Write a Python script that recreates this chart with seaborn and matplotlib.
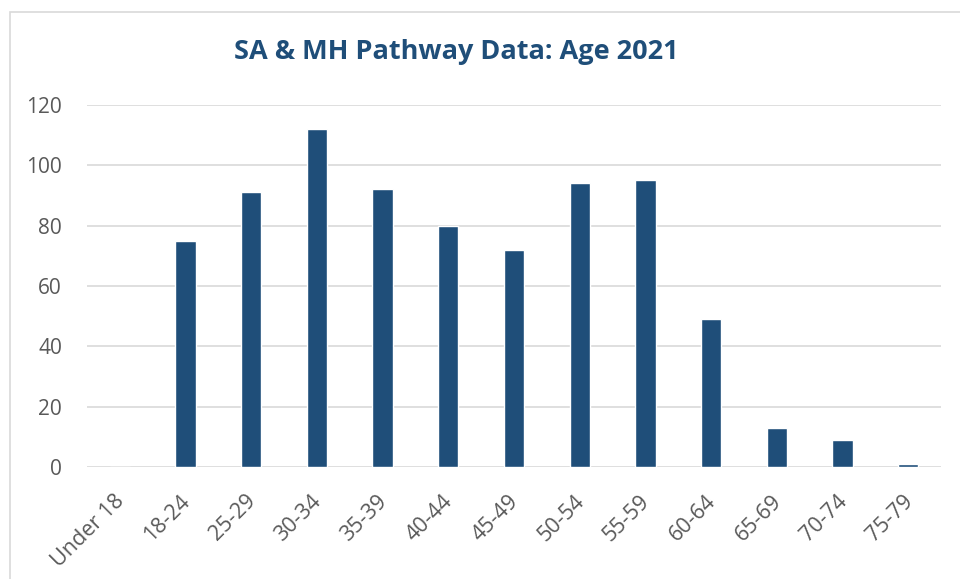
import matplotlib
matplotlib.use("Agg")
import matplotlib.pyplot as plt
import matplotlib.transforms as mtransforms
import seaborn as sns
import pandas as pd
from matplotlib.patches import Rectangle

categories = ["Under 18", "18-24", "25-29", "30-34", "35-39", "40-44", "45-49",
              "50-54", "55-59", "60-64", "65-69", "70-74", "75-79"]
values = [0, 75, 91, 112, 92, 80, 72, 94, 95, 49, 13, 9, 1]
yticks = [0, 20, 40, 60, 80, 100, 120]
title = "SA & MH Pathway Data: Age 2021"

df = pd.DataFrame({"age": categories, "count": values})

sns.set_theme(style="white")
plt.rcParams['font.family'] = ['Open Sans', 'DejaVu Sans']

fig = plt.figure(figsize=(9.6, 5.79), dpi=100)
ax = fig.add_axes([87/960, 1 - 467/579, (941-87)/960, (467-105)/579])

sns.barplot(data=df, x="age", y="count", color="#1F4E79", width=0.31,
            saturation=1, ax=ax, zorder=3)

ax.set_ylim(0, 120)
ax.set_yticks(yticks)
ax.set_xlim(-0.5, len(categories) - 0.5)
ax.yaxis.grid(True, color="#D9D9D9", linewidth=1.2, zorder=0)
ax.xaxis.grid(False)
for s in ax.spines.values():
    s.set_visible(False)
ax.set_xlabel("")
ax.set_ylabel("")
ax.tick_params(axis="both", length=0, colors="#595959", labelsize=15)
ax.tick_params(axis="x", labelsize=15.5)
ax.tick_params(axis="y", pad=18)
ax.tick_params(axis="x", pad=17)
offset = mtransforms.ScaledTranslation(-6/100, 0, fig.dpi_scale_trans)
for lab in ax.get_xticklabels():
    lab.set_rotation(45)
    lab.set_ha("right")
    lab.set_rotation_mode("anchor")
    lab.set_transform(lab.get_transform() + offset)

fig.text(456/960, 1 - 52/579, title, ha="center", va="center",
         fontsize=19.5, fontweight="bold", color="#1F4E79")

fig.patches.append(Rectangle((10/960, -0.01), 1.0, 1 - 12/579 + 0.01,
                             transform=fig.transFigure, fill=False,
                             edgecolor="#D9D9D9", linewidth=1.2))

fig.savefig("out.png", dpi=100)
